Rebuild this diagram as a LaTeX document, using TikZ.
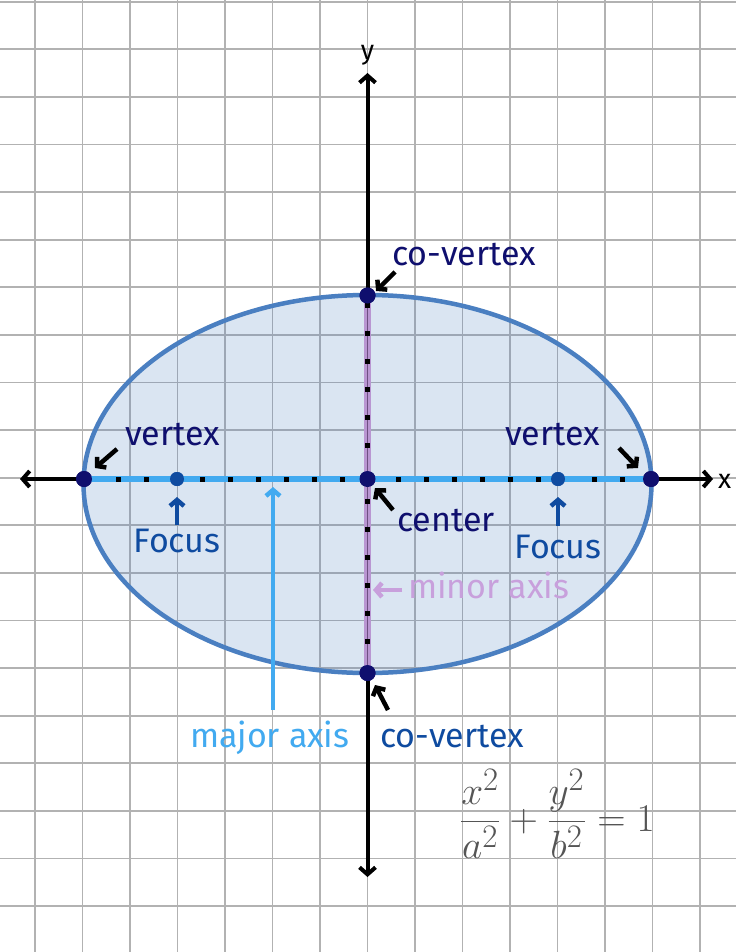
\documentclass[tikz,border=0pt]{standalone}
\usepackage{fontspec}
\setmainfont{Fira Sans}
\usetikzlibrary{arrows.meta}
\definecolor{gridc}{RGB}{178,178,178}
\definecolor{navy}{RGB}{15,15,110}
\definecolor{focc}{RGB}{15,75,160}
\definecolor{majc}{RGB}{66,170,240}
\definecolor{minc}{RGB}{200,160,220}
\definecolor{minl}{RGB}{185,150,210}
\definecolor{minm}{RGB}{110,80,130}
\definecolor{ellc}{RGB}{74,127,193}
\definecolor{formc}{RGB}{85,85,85}
\begin{document}
\begin{tikzpicture}[x=1pt,y=-1pt,
  lbl/.style={inner sep=0pt, anchor=base west, font=\fontsize{34}{40}\selectfont},
  ptr/.style={line width=4.5pt, -{Straight Barb[length=6pt,width=14pt]}},
  axisline/.style={line width=4pt, {Straight Barb[length=7pt,width=16pt]}-{Straight Barb[length=7pt,width=16pt]}},
  vpt/.style={circle, fill=navy, inner sep=0pt, minimum size=16pt},
  fpt/.style={circle, fill=focc, inner sep=0pt, minimum size=14pt},
  gridline/.style={gridc, line width=1.8pt},
  tick/.style={fill=black}]
\useasboundingbox (0,0) rectangle (736,952);
\fill[white] (0,0) rectangle (736,952);
% grid
\foreach \i in {0,...,14} \draw[gridline] ({35+47.5*\i},0) -- ({35+47.5*\i},952);
\foreach \j in {0,...,19} \draw[gridline] (0,{1.7+47.6*\j}) -- (736,{1.7+47.6*\j});
% ellipse
\draw[ellc, line width=4.5pt, fill=ellc, fill opacity=0.2] (367.5,484) ellipse [x radius=284, y radius=189];
% coordinates
\coordinate (xl) at (20,479);
\coordinate (xr) at (713,479);
\coordinate (yt) at (367.5,73);
\coordinate (yb) at (367.5,877);
% axes
\draw[axisline] (xl) -- (xr);
\draw[axisline] (yb) -- (yt);
% points
\node[vpt] (vl) at (84,479) {};
\node[vpt] (vr) at (651,479) {};
\node[vpt] (cvt) at (367.5,295.5) {};
\node[vpt] (cvb) at (367.5,673) {};
\node[vpt] (c) at (367.5,479) {};
\node[fpt] (fl) at (177,479) {};
\node[fpt] (fr) at (558,479) {};
% major / minor axes
\draw[majc, line width=5.5pt] (vl.center) -- (vr.center);
\draw[minl, line width=7pt] (cvt.center) -- (cvb.center);
\draw[minm, line width=1.6pt] (cvt.center) -- (cvb.center);
\foreach \k in {0,...,18} {
  \ifnum\k=9\relax\else\ifnum\k=16\relax\else
  \fill[tick] ({118+28*\k-2.5},476.5) rectangle ++(5,5);
  \fi\fi}
\foreach \k in {0,...,13} {
  \ifnum\k=6\relax\else
  \fill[tick] (365,{305+28*\k-2.5}) rectangle ++(5,5);
  \fi}
% redraw points on top
\node[vpt] at (vl) {};
\node[vpt] at (vr) {};
\node[vpt] at (cvt) {};
\node[vpt] at (cvb) {};
\node[vpt] at (c) {};
\node[fpt] at (fl) {};
\node[fpt] at (fr) {};
% axis labels
\node[inner sep=0pt, anchor=base, font=\fontsize{27}{30}\selectfont] (ylab) at (367.5,60) {y};
\node[inner sep=0pt, anchor=base west, font=\fontsize{27}{30}\selectfont] (xlab) at (718,488) {x};
% labels
\node[lbl, text=navy] (lcvt) at (392,265) {co-vertex};
\node[lbl, text=navy] (lvl) at (125,445) {vertex};
\node[lbl, text=navy] (lvr) at (505,445) {vertex};
\node[lbl, text=navy] (lc) at (397,531) {center};
\node[lbl, text=focc, anchor=base] (lfl) at (177,552) {Focus};
\node[lbl, text=focc, anchor=base] (lfr) at (558,558) {Focus};
\node[lbl, text=minc] (lmin) at (408,598) {minor axis};
\node[lbl, text=majc] (lmaj) at (190,747) {major axis};
\node[lbl, text=focc] (lcvb) at (380,747) {co-vertex};
% pointer coordinates
\coordinate (a1s) at (395,272); \coordinate (a1e) at (376,291);
\coordinate (a2s) at (117,449); \coordinate (a2e) at (95,468);
\coordinate (a3s) at (619,448); \coordinate (a3e) at (638,468);
\coordinate (a4s) at (393,510); \coordinate (a4e) at (375,488);
\coordinate (a5s) at (177,525); \coordinate (a5e) at (177,497);
\coordinate (a6s) at (558,526); \coordinate (a6e) at (558,497);
\coordinate (a7s) at (402,590); \coordinate (a7e) at (373,590);
\coordinate (a8s) at (388,710); \coordinate (a8e) at (375,685);
\coordinate (a9s) at (273,710); \coordinate (a9e) at (273,487);
\draw[ptr] (a1s) -- (a1e);
\draw[ptr] (a2s) -- (a2e);
\draw[ptr] (a3s) -- (a3e);
\draw[ptr] (a4s) -- (a4e);
\draw[ptr, focc] (a5s) -- (a5e);
\draw[ptr, focc] (a6s) -- (a6e);
\draw[ptr, minc] (a7s) -- (a7e);
\draw[ptr] (a8s) -- (a8e);
\draw[ptr, majc] (a9s) -- (a9e);
% formula
\node[inner sep=0pt, text=formc, font=\fontsize{24.88}{30}\selectfont] (eq) at (557,814) {\scalebox{1.58}{$\displaystyle \frac{x^2}{a^2}+\frac{y^2}{b^2}=1$}};
\end{tikzpicture}
\end{document}
